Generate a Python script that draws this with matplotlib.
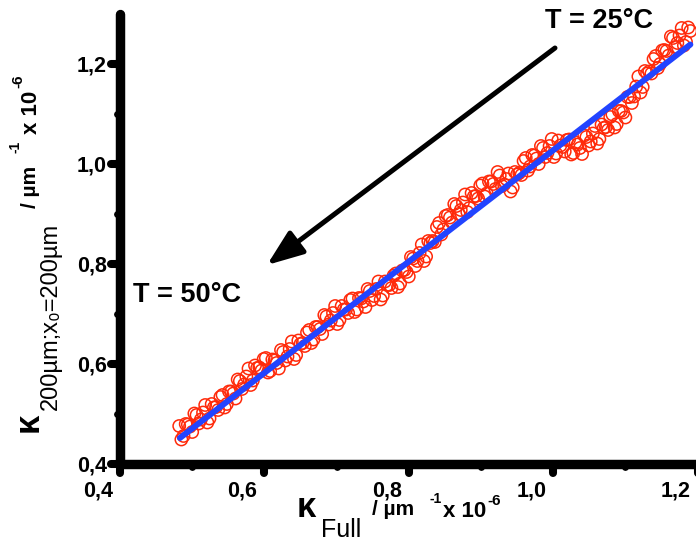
import matplotlib
matplotlib.use("Agg")
import matplotlib.pyplot as plt
import matplotlib.transforms as mtransforms
from matplotlib.markers import MarkerStyle, TICKDOWN, TICKLEFT

# kappa_Full vs kappa_200um (both in um^-1 x 1e-6)
kappa_full = [
    0.482, 0.488, 0.494, 0.500, 0.506, 0.512, 0.518, 0.524, 0.530, 0.536,
    0.542, 0.548, 0.554, 0.560, 0.566, 0.572, 0.578, 0.584, 0.590, 0.596,
    0.602, 0.608, 0.614, 0.620, 0.626, 0.632, 0.638, 0.644, 0.650, 0.656,
    0.662, 0.668, 0.674, 0.680, 0.686, 0.692, 0.698, 0.704, 0.710, 0.716,
    0.722, 0.728, 0.734, 0.740, 0.746, 0.752, 0.758, 0.764, 0.770, 0.776,
    0.782, 0.788, 0.794, 0.800, 0.806, 0.812, 0.818, 0.824, 0.830, 0.836,
    0.842, 0.848, 0.854, 0.860, 0.866, 0.872, 0.878, 0.884, 0.890, 0.896,
    0.902, 0.908, 0.914, 0.920, 0.926, 0.932, 0.938, 0.944, 0.950, 0.956,
    0.962, 0.968, 0.974, 0.980, 0.986, 0.992, 0.998, 1.004, 1.010, 1.016,
    1.022, 1.028, 1.034, 1.040, 1.046, 1.052, 1.058, 1.064, 1.070, 1.076,
    1.082, 1.088, 1.094, 1.100, 1.106, 1.112, 1.118, 1.124, 1.130, 1.136,
    1.142, 1.148, 1.154, 1.160, 1.166, 1.172, 1.178, 1.184, 1.190,
    0.485, 0.491, 0.497, 0.503, 0.509, 0.515, 0.521, 0.527, 0.533, 0.539,
    0.545, 0.551, 0.557, 0.563, 0.569, 0.575, 0.581, 0.587, 0.593, 0.599,
    0.605, 0.611, 0.617, 0.623, 0.629, 0.635, 0.641, 0.647, 0.653, 0.659,
    0.665, 0.671, 0.677, 0.683, 0.689, 0.695, 0.701, 0.707, 0.713, 0.719,
    0.725, 0.731, 0.737, 0.743, 0.749, 0.755, 0.761, 0.767, 0.773, 0.779,
    0.785, 0.791, 0.797, 0.803, 0.809, 0.815, 0.821, 0.827, 0.833, 0.839,
    0.845, 0.851, 0.857, 0.863, 0.869, 0.875, 0.881, 0.887, 0.893, 0.899,
    0.905, 0.911, 0.917, 0.923, 0.929, 0.935, 0.941, 0.947, 0.953, 0.959,
    0.965, 0.971, 0.977, 0.983, 0.989, 0.995, 1.001, 1.007, 1.013, 1.019,
    1.025, 1.031, 1.037, 1.043, 1.049, 1.055, 1.061, 1.067, 1.073, 1.079,
    1.085, 1.091, 1.097, 1.103, 1.109, 1.115, 1.121, 1.127, 1.133, 1.139,
    1.145, 1.151, 1.157, 1.163, 1.169, 1.175, 1.181, 1.187,
]
kappa_200 = [
    0.475, 0.455, 0.478, 0.463, 0.497, 0.488, 0.517, 0.490, 0.512, 0.507,
    0.537, 0.519, 0.544, 0.530, 0.565, 0.558, 0.590, 0.566, 0.591, 0.586,
    0.611, 0.585, 0.606, 0.590, 0.623, 0.614, 0.644, 0.617, 0.639, 0.635,
    0.667, 0.648, 0.673, 0.659, 0.694, 0.686, 0.715, 0.687, 0.708, 0.701,
    0.730, 0.708, 0.730, 0.713, 0.745, 0.735, 0.764, 0.736, 0.757, 0.751,
    0.780, 0.760, 0.787, 0.774, 0.810, 0.805, 0.838, 0.814, 0.841, 0.843,
    0.881, 0.868, 0.897, 0.882, 0.915, 0.907, 0.938, 0.911, 0.934, 0.930,
    0.960, 0.940, 0.964, 0.949, 0.976, 0.958, 0.980, 0.952, 0.978, 0.977,
    1.011, 0.994, 1.016, 0.999, 1.031, 1.021, 1.049, 1.020, 1.036, 1.024,
    1.048, 1.021, 1.038, 1.019, 1.053, 1.044, 1.075, 1.049, 1.071, 1.067,
    1.098, 1.079, 1.105, 1.092, 1.133, 1.134, 1.174, 1.153, 1.180, 1.180,
    1.215, 1.199, 1.227, 1.216, 1.251, 1.241, 1.271, 1.243, 1.265,
    0.448, 0.479, 0.474, 0.500, 0.480, 0.502, 0.482, 0.519, 0.513, 0.533,
    0.512, 0.544, 0.540, 0.568, 0.549, 0.574, 0.557, 0.596, 0.592, 0.609,
    0.582, 0.608, 0.601, 0.627, 0.606, 0.629, 0.609, 0.646, 0.641, 0.662,
    0.641, 0.673, 0.669, 0.697, 0.678, 0.701, 0.679, 0.715, 0.708, 0.727,
    0.703, 0.731, 0.724, 0.749, 0.727, 0.749, 0.728, 0.764, 0.757, 0.776,
    0.753, 0.786, 0.783, 0.813, 0.795, 0.821, 0.805, 0.845, 0.845, 0.873,
    0.858, 0.895, 0.892, 0.919, 0.899, 0.922, 0.903, 0.941, 0.935, 0.956,
    0.934, 0.964, 0.959, 0.983, 0.955, 0.969, 0.944, 0.983, 0.981, 1.005,
    0.986, 1.017, 1.010, 1.035, 1.013, 1.035, 1.013, 1.046, 1.033, 1.047,
    1.018, 1.042, 1.031, 1.056, 1.036, 1.060, 1.040, 1.078, 1.073, 1.093,
    1.072, 1.105, 1.102, 1.133, 1.121, 1.154, 1.142, 1.185, 1.184, 1.209,
    1.191, 1.226, 1.225, 1.254, 1.233, 1.256, 1.236, 1.272,
]

# linear fit
fit_slope = 1.113
fit_intercept = -0.0865
fit_range = [0.483, 1.190]

xticks = [0.4, 0.6, 0.8, 1.0, 1.2]
xtick_labels = ["0,4", "0,6", "0,8", "1,0", "1,2"]
xminor = [0.5, 0.7, 0.9, 1.1]
yticks = [0.4, 0.6, 0.8, 1.0, 1.2]
ytick_labels = ["0,4", "0,6", "0,8", "1,0", "1,2"]
yminor = [0.5, 0.7, 0.9, 1.1]

# arrow from the 25 C end to the 50 C end
arrow_tail = (1.0025, 1.231)
arrow_head = (0.6036, 0.797)

RED = "#ff2a0a"
BLUE = "#2244ff"
FONT = ["Liberation Sans", "DejaVu Sans"]
plt.rcParams["font.family"] = FONT

W, H = 696, 541
fig = plt.figure(figsize=(W / 100, H / 100), dpi=100)


def px(x, y):
    return x / W, 1 - y / H


ax = fig.add_axes([120 / W, 1 - 463.5 / H, 584.8 / W, 450 / H])
ax.set_xlim(0.4, 1.21)
ax.set_ylim(0.4, 1.3)

for side in ["top", "right"]:
    ax.spines[side].set_visible(False)
for side in ["left", "bottom"]:
    ax.spines[side].set_linewidth(6.8)
    ax.spines[side].set_capstyle("round")

ax.set_xticks(xticks, xtick_labels, fontsize=15.5, fontweight="bold")
ax.set_yticks(yticks, ytick_labels, fontsize=15.5, fontweight="bold")
ax.set_xticks(xminor, minor=True)
ax.set_yticks(yminor, minor=True)
ax.tick_params(which="major", direction="out", length=6.5, width=5.8, pad=5.5)
ax.tick_params(which="minor", direction="out", length=2.5, width=5.0)
ax.tick_params(axis="y", which="major", pad=3)

# rounded tick ends like the Origin plot
for t in ax.xaxis.get_major_ticks() + ax.xaxis.get_minor_ticks():
    t.tick1line.set_marker(MarkerStyle(TICKDOWN, capstyle="round"))
for t in ax.yaxis.get_major_ticks() + ax.yaxis.get_minor_ticks():
    t.tick1line.set_marker(MarkerStyle(TICKLEFT, capstyle="round"))

# x tick labels sit a bit left of their ticks in the original
shift = mtransforms.ScaledTranslation(-22 / 100, 0, fig.dpi_scale_trans)
for t in ax.xaxis.get_major_ticks():
    t.label1.set_transform(t.label1.get_transform() + shift)

ax.scatter(kappa_full, kappa_200, s=78, facecolors="none", edgecolors=RED,
           linewidths=1.1, zorder=2, clip_on=False)
ax.plot(fit_range, [fit_slope * x + fit_intercept for x in fit_range],
        color=BLUE, lw=4.3, solid_capstyle="round", zorder=3)

ax.annotate("", xy=arrow_head, xytext=arrow_tail,
            arrowprops=dict(arrowstyle="-|>,head_length=1.1,head_width=0.42",
                            mutation_scale=20, color="black", lw=3.6,
                            capstyle="round", shrinkA=0, shrinkB=0))
ax.text(0.9886, 1.271, "T = 25°C", fontsize=19.5, fontweight="bold",
        ha="left", va="baseline", clip_on=False)
ax.text(0.418, 0.723, "T = 50°C", fontsize=19.5, fontweight="bold",
        ha="left", va="baseline", clip_on=False)

# x axis label
fig.text(*px(297, 517), "κ", fontsize=25, fontweight="bold", va="baseline")
fig.text(*px(321, 537), "Full", fontsize=18, va="baseline")
fig.text(*px(372, 515), "/ µm", fontsize=15, fontweight="bold", va="baseline")
fig.text(*px(429, 503), "-1", fontsize=10, fontweight="bold", va="baseline")
fig.text(*px(443, 517), "x 10", fontsize=16, fontweight="bold", va="baseline")
fig.text(*px(487, 505), "-6", fontsize=11, fontweight="bold", va="baseline")

# y axis label (rotated)
rot = dict(rotation=90, rotation_mode="anchor", ha="left", va="baseline")
fig.text(*px(38, 432), "κ", fontsize=25, fontweight="bold", **rot)
fig.text(*px(57, 410), "200µm;x₀=200µm", fontsize=17, **rot)
fig.text(*px(36, 208), "/ µm", fontsize=15, fontweight="bold", **rot)
fig.text(*px(20, 153), "-1", fontsize=10, fontweight="bold", **rot)
fig.text(*px(37, 134), "x 10", fontsize=16, fontweight="bold", **rot)
fig.text(*px(22, 88), "-6", fontsize=11, fontweight="bold", **rot)

fig.savefig("out.png", dpi=100)
